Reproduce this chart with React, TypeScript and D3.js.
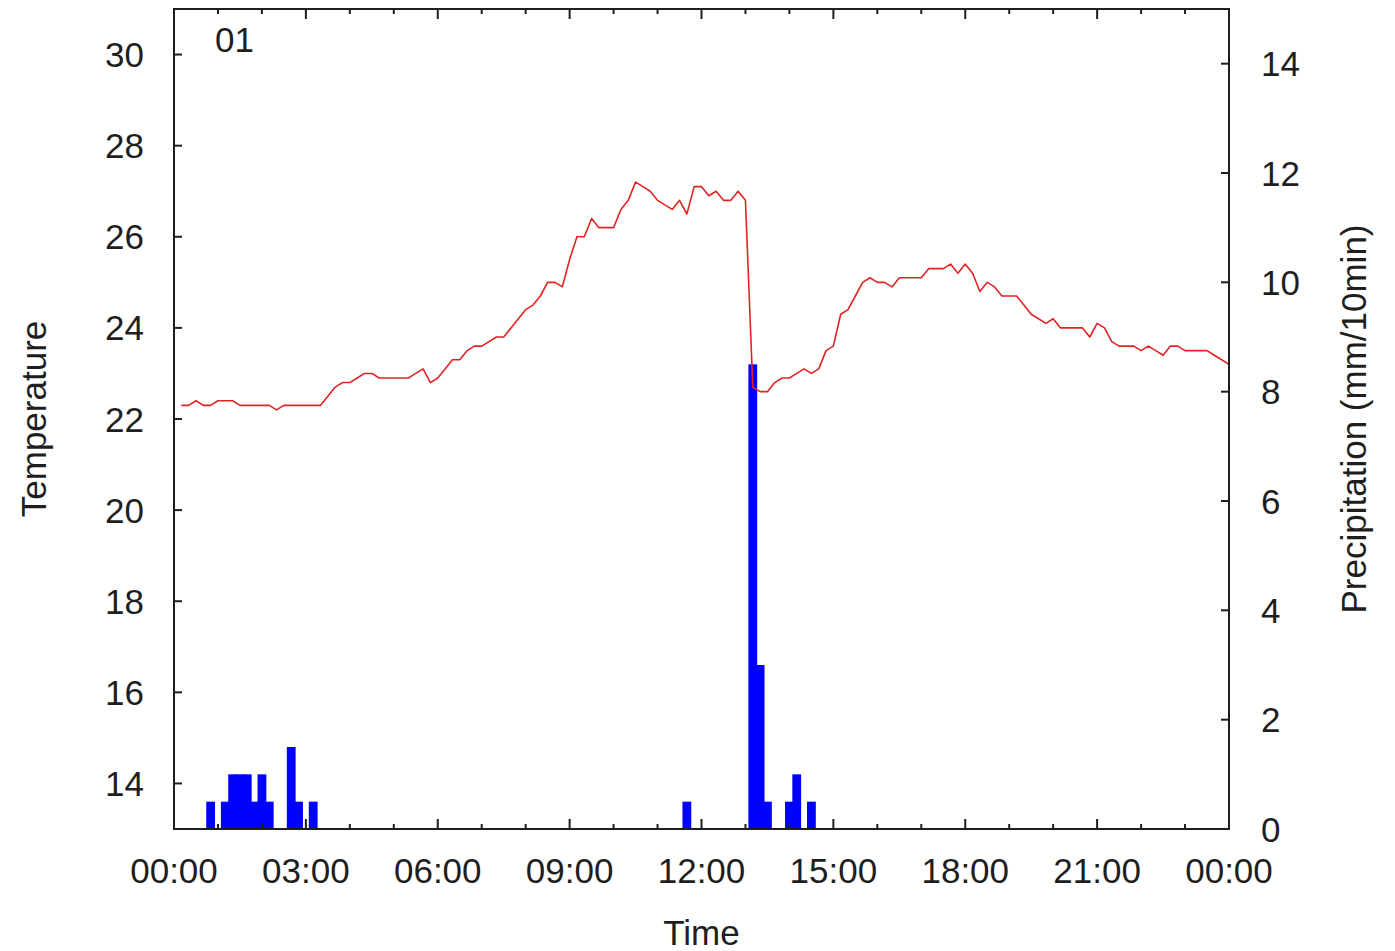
import * as d3 from 'd3';

// 10-minute temperature readings, 00:10 .. 24:00
const tempStartMinute = 10;
const stepMinutes = 10;
const temperature = [
  22.3, 22.3, 22.4, 22.3, 22.3, 22.4, 22.4, 22.4, 22.3, 22.3, 22.3, 22.3,
  22.3, 22.2, 22.3, 22.3, 22.3, 22.3, 22.3, 22.3, 22.5, 22.7, 22.8, 22.8,
  22.9, 23.0, 23.0, 22.9, 22.9, 22.9, 22.9, 22.9, 23.0, 23.1, 22.8, 22.9,
  23.1, 23.3, 23.3, 23.5, 23.6, 23.6, 23.7, 23.8, 23.8, 24.0, 24.2, 24.4,
  24.5, 24.7, 25.0, 25.0, 24.9, 25.5, 26.0, 26.0, 26.4, 26.2, 26.2, 26.2,
  26.6, 26.8, 27.2, 27.1, 27.0, 26.8, 26.7, 26.6, 26.8, 26.5, 27.1, 27.1,
  26.9, 27.0, 26.8, 26.8, 27.0, 26.8, 22.7, 22.6, 22.6, 22.8, 22.9, 22.9,
  23.0, 23.1, 23.0, 23.1, 23.5, 23.6, 24.3, 24.4, 24.7, 25.0, 25.1, 25.0,
  25.0, 24.9, 25.1, 25.1, 25.1, 25.1, 25.3, 25.3, 25.3, 25.4, 25.2, 25.4,
  25.2, 24.8, 25.0, 24.9, 24.7, 24.7, 24.7, 24.5, 24.3, 24.2, 24.1, 24.2,
  24.0, 24.0, 24.0, 24.0, 23.8, 24.1, 24.0, 23.7, 23.6, 23.6, 23.6, 23.5,
  23.6, 23.5, 23.4, 23.6, 23.6, 23.5, 23.5, 23.5, 23.5, 23.4, 23.3, 23.2,
];

// non-zero precipitation (mm/10min)
const precipTimes = [
  '00:50', '01:10', '01:20', '01:30', '01:40', '01:50', '02:00', '02:10',
  '02:40', '02:50', '03:10', '11:40', '13:10', '13:20', '13:30', '14:00',
  '14:10', '14:30',
];
const precipValues = [
  0.5, 0.5, 1.0, 1.0, 1.0, 0.5, 1.0, 0.5,
  1.5, 0.5, 0.5, 0.5, 8.5, 3.0, 0.5, 0.5,
  1.0, 0.5,
];

const tempTicks = [14, 16, 18, 20, 22, 24, 26, 28, 30];
const precipTicks = [0, 2, 4, 6, 8, 10, 12, 14];
const timeLabels = ['00:00', '03:00', '06:00', '09:00', '12:00', '15:00', '18:00', '21:00', '00:00'];

const W = 1395;
const H = 951;
const margin = { top: 9, right: 166, bottom: 122, left: 174 };
const font = '"Liberation Sans", Arial, sans-serif';
const fontSize = 35;
const ink = '#1e1e1e';

const toMinutes = (s: string) => {
  const [h, m] = s.split(':').map(Number);
  return h * 60 + m;
};

export default function App() {
  const x = d3.scaleLinear().domain([0, 1440]).range([margin.left, W - margin.right]);
  const yT = d3.scaleLinear().domain([13, 31]).range([H - margin.bottom, margin.top]);
  const yP = d3.scaleLinear().domain([0, 15]).range([H - margin.bottom, margin.top]);

  const x0 = x.range()[0];
  const x1 = x.range()[1];
  const yBottom = yT.range()[0];
  const yTop = yT.range()[1];

  const line = d3.line<number>()
    .x((_, i) => x(tempStartMinute + i * stepMinutes))
    .y(d => yT(d));

  const hours = d3.range(0, 25);
  const barHalf = 6; // minutes

  return (
    <svg width={W} height={H} style={{ position: 'absolute', left: 0, top: 0, background: '#fff' }}>
      {/* precipitation bars */}
      <g fill="#0000ff">
        {precipTimes.map((t, i) => {
          const m = toMinutes(t);
          return (
            <rect
              key={t}
              x={x(m - barHalf)}
              width={x(m + barHalf) - x(m - barHalf)}
              y={yP(precipValues[i])}
              height={yP(0) - yP(precipValues[i])}
            />
          );
        })}
      </g>

      {/* temperature */}
      <path d={line(temperature) || ''} fill="none" stroke="#e02424" strokeWidth={1.6} strokeLinejoin="round" />

      {/* frame */}
      <rect x={x0} y={yTop} width={x1 - x0} height={yBottom - yTop} fill="none" stroke={ink} strokeWidth={2} />

      {/* time ticks, bottom and top */}
      {hours.map(h => {
        const len = h % 3 === 0 ? 10 : 5;
        const px = x(h * 60);
        return (
          <g key={h} stroke={ink} strokeWidth={2}>
            <line x1={px} x2={px} y1={yBottom} y2={yBottom - len} />
            <line x1={px} x2={px} y1={yTop} y2={yTop + len} />
          </g>
        );
      })}
      {timeLabels.map((lbl, i) => (
        <text
          key={i}
          x={x(i * 180)}
          y={883}
          textAnchor="middle"
          fontFamily={font}
          fontSize={fontSize}
          fill={ink}
        >
          {lbl}
        </text>
      ))}

      {/* left axis */}
      {tempTicks.map(t => (
        <g key={t}>
          <line x1={x0} x2={x0 + 8} y1={yT(t)} y2={yT(t)} stroke={ink} strokeWidth={2} />
          <text
            x={144}
            y={yT(t)}
            dy="0.36em"
            textAnchor="end"
            fontFamily={font}
            fontSize={fontSize}
            fill={ink}
          >
            {t}
          </text>
        </g>
      ))}

      {/* right axis */}
      {precipTicks.map(t => (
        <g key={t}>
          <line x1={x1} x2={x1 - 8} y1={yP(t)} y2={yP(t)} stroke={ink} strokeWidth={2} />
          <text
            x={1261}
            y={yP(t)}
            dy="0.36em"
            textAnchor="start"
            fontFamily={font}
            fontSize={fontSize}
            fill={ink}
          >
            {t}
          </text>
        </g>
      ))}

      {/* labels */}
      <text x={215} y={52} fontFamily={font} fontSize={fontSize} fill={ink}>01</text>
      <text x={(x0 + x1) / 2} y={945} textAnchor="middle" fontFamily={font} fontSize={fontSize} fill={ink}>
        Time
      </text>
      <text
        transform={`translate(46,${(yTop + yBottom) / 2}) rotate(-90)`}
        textAnchor="middle"
        fontFamily={font}
        fontSize={fontSize}
        fill={ink}
      >
        Temperature
      </text>
      <text
        transform={`translate(1366,${(yTop + yBottom) / 2}) rotate(-90)`}
        textAnchor="middle"
        fontFamily={font}
        fontSize={fontSize}
        fill={ink}
      >
        Precipitation (mm/10min)
      </text>
    </svg>
  );
}
